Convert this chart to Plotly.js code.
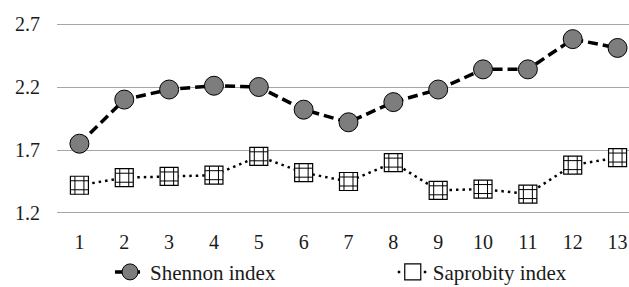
<!DOCTYPE html>
<html>
<head>
<meta charset="utf-8">
<script src="https://cdn.plot.ly/plotly-3.0.1.min.js"></script>
<style>html,body{margin:0;padding:0;background:#fff;}#chart{width:629px;height:287px;}</style>
</head>
<body>
<div id="chart"></div>
<script>
const categories = [1, 2, 3, 4, 5, 6, 7, 8, 9, 10, 11, 12, 13];
const shennonIndex = [1.75, 2.10, 2.18, 2.21, 2.20, 2.02, 1.92, 2.08, 2.18, 2.34, 2.34, 2.58, 2.51];
const saprobityIndex = [1.42, 1.48, 1.49, 1.50, 1.65, 1.52, 1.45, 1.60, 1.38, 1.39, 1.35, 1.58, 1.64];
const yTicks = [1.2, 1.7, 2.2, 2.7];

const font = {family: 'Liberation Serif, Times New Roman, serif', size: 20, color: '#1a1a1a'};
const legendFont = {family: 'Liberation Serif, Times New Roman, serif', size: 21, color: '#1a1a1a'};

const traces = [
  {
    x: categories, y: shennonIndex, name: 'Shennon index', type: 'scatter', mode: 'lines+markers',
    line: {color: '#000', width: 3.5, dash: '10px,5px'},
    marker: {symbol: 'circle', size: 19, color: '#7d7d7d', line: {color: '#000', width: 1}},
    legend: 'legend'
  },
  {
    x: categories, y: saprobityIndex, name: 'Saprobity index', type: 'scatter', mode: 'lines+markers',
    line: {color: '#000', width: 2.5, dash: '2.5px,4px'},
    marker: {symbol: 'square', size: 18, color: '#fff', line: {color: '#000', width: 1.2}},
    legend: 'legend2'
  },
  {
    x: categories, y: saprobityIndex, showlegend: false, hoverinfo: 'skip', type: 'scatter', mode: 'markers',
    marker: {symbol: 'hash-open', size: 18, color: '#000', line: {color: '#000', width: 1}}
  }
];

const legendBase = {
  orientation: 'h', xanchor: 'left', y: -0.305, yanchor: 'middle',
  font: legendFont, bgcolor: 'rgba(0,0,0,0)'
};

const layout = {
  width: 629, height: 287,
  margin: {l: 57, r: 0, t: 23, b: 73, autoexpand: false},
  paper_bgcolor: '#fff', plot_bgcolor: '#fff',
  font: font,
  showlegend: true,
  xaxis: {
    range: [0.5, 13.255], tickvals: categories, ticktext: categories.map(String),
    showgrid: false, zeroline: false, showline: false, ticks: '', ticklabelstandoff: 14,
    tickfont: font, fixedrange: true, automargin: false
  },
  yaxis: {
    range: [1.192, 2.708], tickvals: yTicks, ticktext: yTicks.map(v => v.toFixed(1)),
    showgrid: true, gridcolor: '#a6a6a6', gridwidth: 1, zeroline: false, showline: false,
    ticks: '', ticklabelstandoff: 16, tickfont: font, fixedrange: true, automargin: false
  },
  legend: Object.assign({}, legendBase, {x: 0.0927}),
  legend2: Object.assign({}, legendBase, {x: 0.587})
};

Plotly.newPlot('chart', traces, layout, {staticPlot: true, displayModeBar: false});
</script>
</body>
</html>
